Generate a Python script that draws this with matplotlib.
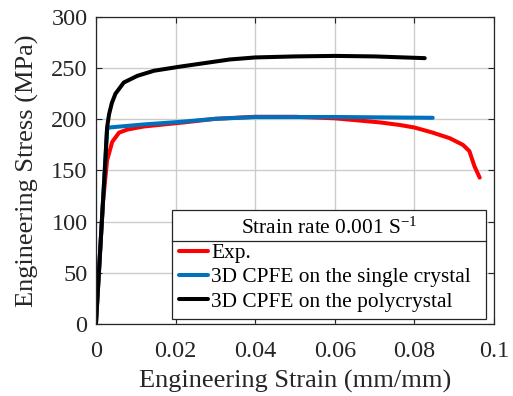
"""Engineering stress-strain curves: experiment vs. CPFE models."""

import matplotlib
matplotlib.use('Agg')
import matplotlib.pyplot as plt
from matplotlib.lines import Line2D

plt.rcParams['font.family'] = ['Liberation Serif', 'DejaVu Serif']
plt.rcParams['mathtext.fontset'] = 'custom'
plt.rcParams['mathtext.rm'] = 'Liberation Serif'
plt.rcParams['mathtext.it'] = 'Liberation Serif:italic'

# Experimental curve
exp_strain = [0, 0.0018, 0.0028, 0.0041, 0.0058, 0.0079, 0.012, 0.0221, 0.03,
              0.04, 0.05, 0.06, 0.0713, 0.0763, 0.08, 0.0846, 0.0889, 0.0922,
              0.0938, 0.0951, 0.0964]
exp_stress = [0, 120, 160, 178, 187, 190, 193, 197, 200.5, 202.5, 202.5, 201,
              197, 194.5, 192, 187, 181.5, 175, 169, 154, 143]

# CPFE, single crystal
sc_strain = [0, 0.0028, 0.0033, 0.012, 0.0211, 0.03, 0.04, 0.06, 0.0846]
sc_stress = [0, 190, 192, 195, 197.5, 200.5, 202.2, 202.3, 201.5]

# CPFE, polycrystal
pc_strain = [0, 0.0024, 0.0028, 0.0033, 0.0040, 0.0049, 0.007, 0.0104, 0.0146,
             0.0211, 0.0336, 0.04, 0.05, 0.06, 0.07, 0.0826]
pc_stress = [0, 162, 192, 205, 216, 225, 236, 242.5, 247.5, 251.5, 258.5,
             260.5, 261.5, 262, 261.5, 259.8]

x_ticks = [0, 0.02, 0.04, 0.06, 0.08, 0.1]
x_ticklabels = ['0', '0.02', '0.04', '0.06', '0.08', '0.1']
y_ticks = [0, 50, 100, 150, 200, 250, 300]

RED = '#ff0000'
BLUE = '#0072bd'
BLACK = '#000000'
DARK = '#262626'

fig = plt.figure(figsize=(5.13, 3.96), dpi=100)
ax = fig.add_axes([0.187, 0.182, 0.776, 0.775])

lw = 2.9
ax.plot(exp_strain, exp_stress, color=RED, lw=lw, solid_capstyle='round',
        solid_joinstyle='round', label='Exp.')
ax.plot(sc_strain, sc_stress, color=BLUE, lw=lw, solid_capstyle='round',
        solid_joinstyle='round', label='3D CPFE on the single crystal')
ax.plot(pc_strain, pc_stress, color=BLACK, lw=lw, solid_capstyle='round',
        solid_joinstyle='round', label='3D CPFE on the polycrystal')

ax.set_xlim(0, 0.1)
ax.set_ylim(0, 300)
ax.set_xticks(x_ticks)
ax.set_xticklabels(x_ticklabels)
ax.set_yticks(y_ticks)
ax.grid(True, color='#cccccc', lw=1.0)
ax.set_axisbelow(True)
ax.tick_params(direction='in', top=True, right=True, length=4, width=0.8,
               labelsize=17.5, colors=DARK)
ax.tick_params(axis='x', pad=12)
ax.tick_params(axis='y', pad=6)
for s in ax.spines.values():
    s.set_color(DARK)
    s.set_linewidth(0.9)

ax.set_xlabel('Engineering Strain (mm/mm)', fontsize=19, color=DARK,
              labelpad=6)
ax.set_ylabel('Engineering Stress (MPa)', fontsize=19, color=DARK,
              labelpad=9)

leg = ax.legend(loc='upper left', bbox_to_anchor=(0.19, 0.0, 0.79, 0.371),
                mode='expand', title='Strain rate 0.001 S$^{\\mathregular{-1}}$',
                fontsize=15.4, title_fontsize=15.4, fancybox=False,
                edgecolor=DARK, framealpha=1, handlelength=1.35,
                handletextpad=0.15, labelspacing=0.2, borderpad=0.35,
                borderaxespad=0)
leg.get_frame().set_linewidth(0.9)

# separator between legend title and entries
fig.canvas.draw()
inv = ax.transAxes.inverted()
title_bot = leg.get_title().get_window_extent().y0
entry_top = leg.get_texts()[0].get_window_extent().y1
frame = leg.get_frame().get_window_extent()
x0, y_sep = inv.transform((frame.x0, (title_bot + entry_top) / 2))
x1, _ = inv.transform((frame.x1, 0))
ax.add_line(Line2D([x0, x1], [y_sep, y_sep], transform=ax.transAxes,
                   color=DARK, lw=0.9, zorder=10))

fig.savefig('out.png', dpi=100)
